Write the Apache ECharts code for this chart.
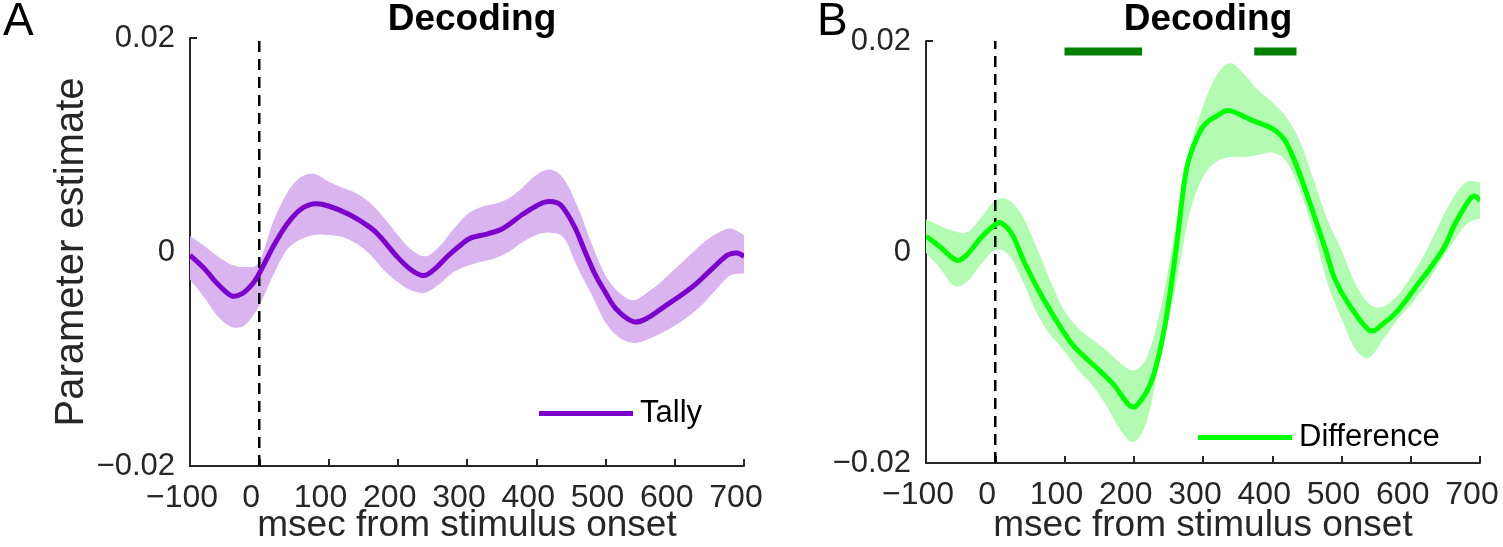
<!DOCTYPE html>
<html>
<head>
<meta charset="utf-8">
<script src="https://cdn.jsdelivr.net/npm/echarts@6/dist/echarts.min.js"></script>
<style>
html,body{margin:0;padding:0;background:#fff;}
#chart{width:1503px;height:547px;}
</style>
</head>
<body>
<div id="chart"></div>
<script>
// ---------- DATA ----------
const xTicks = [-100, 0, 100, 200, 300, 400, 500, 600, 700];
const yTicks = [-0.02, 0, 0.02];

// common time points for the confidence bands
const bandT = [-100,-80,-60,-40,-20,0,20,40,60,80,100,120,140,160,180,200,220,240,260,280,300,320,340,360,380,400,420,440,460,480,500,520,540,560,580,600,620,640,660,680,700];

// Panel A: Tally
const meanA_t = [-100,-80,-60,-40,-25,-10,0,20,40,60,80,100,130,160,175,200,220,238,255,272,290,305,330,352,380,400,415,435,455,470,485,500,515,540,560,585,610,632,655,676,690,700];
const meanA_v = [-0.0003,-0.0015,-0.003,-0.0041,-0.0039,-0.003,-0.002,0.0005,0.0026,0.004,0.0045,0.0043,0.0035,0.0023,0.0014,-0.0005,-0.0017,-0.0022,-0.0015,-0.0004,0.0006,0.0013,0.0017,0.0022,0.0035,0.0043,0.0047,0.0044,0.0024,0.0001,-0.0021,-0.0038,-0.0053,-0.0065,-0.0062,-0.0051,-0.004,-0.0029,-0.0015,-0.0003,-0.0001,-0.0004];
const upA  = [0.0015,0.0006,-0.0004,-0.0012,-0.0014,-0.0009,0.0028,0.0055,0.007,0.0073,0.0066,0.006,0.0055,0.0046,0.0032,0.0016,0.0002,-0.0004,0.0005,0.0021,0.0035,0.0042,0.0045,0.005,0.006,0.0072,0.0077,0.0068,0.0042,0.0008,-0.0022,-0.0038,-0.0045,-0.0038,-0.0028,-0.0016,-0.0004,0.0008,0.0017,0.0022,0.0016];
const lowA = [-0.0026,-0.0042,-0.006,-0.007,-0.0068,-0.005,-0.0022,0.0002,0.0012,0.0016,0.0016,0.0014,0.0008,-0.0002,-0.0017,-0.0028,-0.0036,-0.0038,-0.003,-0.0019,-0.0013,-0.0009,-0.0006,0.0,0.0009,0.0016,0.0018,0.0013,-0.0015,-0.004,-0.0066,-0.008,-0.0085,-0.0082,-0.0076,-0.0069,-0.006,-0.0049,-0.0035,-0.0022,-0.002];

// Panel B: Difference
const meanB_t = [-100,-80,-65,-54,-40,-20,0,10,25,45,70,106,125,145,170,195,210,228,245,261,276,294,306,320,338,370,400,418,435,453,477,490,510,540,560,582,612,626,648,665,688,700];
const meanB_v = [0.0015,0.0005,-0.0004,-0.0008,-0.0002,0.0014,0.0026,0.0027,0.0016,-0.0014,-0.0045,-0.0083,-0.0097,-0.0109,-0.0125,-0.0146,-0.0141,-0.0118,-0.007,0.0002,0.0078,0.0112,0.0123,0.0129,0.0134,0.0125,0.0117,0.0106,0.0082,0.0049,0.0002,-0.0025,-0.0049,-0.0074,-0.0068,-0.0055,-0.0029,-0.0017,0.0004,0.0028,0.0052,0.0049];
const upB  = [0.0031,0.0025,0.002,0.0019,0.0033,0.0049,0.0049,0.0033,0.0004,-0.0028,-0.0056,-0.0072,-0.0083,-0.0093,-0.0105,-0.0112,-0.0098,-0.005,0.0022,0.0095,0.0138,0.0168,0.0179,0.0168,0.0153,0.0142,0.0128,0.0105,0.0068,0.003,0.0002,-0.003,-0.0049,-0.0052,-0.0042,-0.0024,-0.0002,0.0025,0.005,0.0066,0.0066];
const lowB = [-0.0001,-0.0015,-0.0032,-0.0028,-0.0011,0.0002,-0.0003,-0.0028,-0.0058,-0.0079,-0.0094,-0.0112,-0.0126,-0.0145,-0.0168,-0.018,-0.0158,-0.0094,-0.0035,0.0035,0.0071,0.0086,0.009,0.009,0.0092,0.0094,0.0086,0.0058,0.0018,-0.003,-0.0063,-0.0092,-0.01,-0.0083,-0.0065,-0.005,-0.0033,-0.0012,0.0008,0.0026,0.0032];

// significance bars in panel B
const sigStartB = [100, 374];
const sigEndB   = [212, 435];
const sigLevelB = 0.019;

const stimOnset = 0;
const titles = ['Decoding', 'Decoding'];
const panelLetters = ['A', 'B'];
const seriesNames = ['Tally', 'Difference'];
const xName = 'msec from stimulus onset';
const yName = 'Parameter estimate';

// ---------- STYLE ----------
const FONT = '"Liberation Sans", Arial, Helvetica, sans-serif';
const AX = '#262626';
const colA = '#7B00CC', bandColA = '#D9B4EF';
const colB = '#00FF00', bandColB = '#B3FBB3';
const sigCol = '#007F00';

const grids = [
  {left: 190, top: 38, width: 554, height: 428, containLabel: false, outerBoundsMode: 'none'},
  {left: 926, top: 41, width: 554, height: 422, containLabel: false, outerBoundsMode: 'none'}
];

function fmtX(v){ return v < 0 ? '\u2212' + Math.abs(v) : String(v); }
function fmtY(v){
  const r = Math.round(v * 1000) / 1000;
  if (r === 0) return '0';
  return (r < 0 ? '\u2212' : '') + Math.abs(r).toFixed(2);
}

// Catmull-Rom -> cubic bezier path segments through pixel points
function crSegments(p){
  let s = '';
  for (let i = 0; i < p.length - 1; i++){
    const p0 = p[Math.max(i - 1, 0)], p1 = p[i], p2 = p[i + 1], p3 = p[Math.min(i + 2, p.length - 1)];
    const c1x = p1[0] + (p2[0] - p0[0]) / 6, c1y = p1[1] + (p2[1] - p0[1]) / 6;
    const c2x = p2[0] - (p3[0] - p1[0]) / 6, c2y = p2[1] - (p3[1] - p1[1]) / 6;
    s += ' C ' + c1x + ' ' + c1y + ' ' + c2x + ' ' + c2y + ' ' + p2[0] + ' ' + p2[1];
  }
  return s;
}

function xAxisCfg(i, gap){
  return {
    type: 'value', gridIndex: i, min: xTicks[0], max: xTicks[xTicks.length-1], interval: 100,
    name: xName, nameLocation: 'middle', nameGap: gap, nameMoveOverlap: false,
    nameTextStyle: {fontFamily: FONT, fontSize: 37, color: AX},
    axisLine: {onZero: false, lineStyle: {color: AX, width: 2}},
    axisTick: {inside: true, length: 7, lineStyle: {color: AX, width: 2}},
    axisLabel: {formatter: fmtX, fontFamily: FONT, fontSize: 32, color: AX, margin: 16,
                padding: [0, 16, 0, 0], hideOverlap: false},
    splitLine: {show: false}
  };
}
function yAxisCfg(i){
  return {
    type: 'value', gridIndex: i, min: yTicks[0], max: yTicks[yTicks.length-1], interval: 0.02,
    name: i === 0 ? yName : '', nameLocation: 'middle', nameGap: 98, nameMoveOverlap: false,
    nameTextStyle: {fontFamily: FONT, fontSize: 40, color: AX},
    axisLine: {onZero: false, lineStyle: {color: AX, width: 2}},
    axisTick: {inside: true, length: 7, lineStyle: {color: AX, width: 2}},
    axisLabel: {formatter: fmtY, fontFamily: FONT, fontSize: 31, color: AX, margin: 15},
    splitLine: {show: false}
  };
}

function bandSeries(i, low, up, color){
  return {
    type: 'custom', name: 'band' + i, xAxisIndex: i, yAxisIndex: i, silent: true, z: 1,
    animation: false, clip: true,
    data: bandT.map((t, k) => [t, low[k], up[k]]),
    encode: {x: 0, y: [1, 2]},
    renderItem: function(params, api){
      if (params.dataIndex !== 0) return null;
      const upPts = bandT.map((t, k) => api.coord([t, up[k]]));
      const lowPts = bandT.map((t, k) => api.coord([t, low[k]])).reverse();
      const d = 'M ' + upPts[0][0] + ' ' + upPts[0][1] + crSegments(upPts) +
                ' L ' + lowPts[0][0] + ' ' + lowPts[0][1] + crSegments(lowPts) + ' Z';
      return {type: 'path', shape: {pathData: d}, style: {fill: color, stroke: null}};
    }
  };
}

function meanSeries(i, ts, vs, color, name){
  return {
    type: 'custom', name: name, xAxisIndex: i, yAxisIndex: i, silent: true, z: 3,
    animation: false, clip: true,
    itemStyle: {color: color},
    data: ts.map((t, k) => [t, vs[k]]),
    encode: {x: 0, y: 1},
    renderItem: function(params, api){
      if (params.dataIndex !== 0) return null;
      const pts = ts.map((t, k) => api.coord([t, vs[k]]));
      const d = 'M ' + pts[0][0] + ' ' + pts[0][1] + crSegments(pts);
      return {type: 'path', shape: {pathData: d},
              style: {fill: 'none', stroke: color, lineWidth: 5, lineJoin: 'round'}};
    }
  };
}

function onsetSeries(i){
  return {
    type: 'line', name: 'onset' + i, xAxisIndex: i, yAxisIndex: i, symbol: 'none', silent: true,
    animation: false, z: 2,
    data: [[stimOnset, yTicks[0]], [stimOnset, yTicks[yTicks.length - 1]]],
    lineStyle: {color: '#000', width: 2.5, type: [11, 7]}
  };
}

const series = [];
series.push(bandSeries(0, lowA, upA, bandColA));
series.push(onsetSeries(0));
series.push(meanSeries(0, meanA_t, meanA_v, colA, seriesNames[0]));
series.push(bandSeries(1, lowB, upB, bandColB));
series.push(onsetSeries(1));
series.push(meanSeries(1, meanB_t, meanB_v, colB, seriesNames[1]));
sigStartB.forEach((s, k) => {
  series.push({
    type: 'line', name: 'sig' + k, xAxisIndex: 1, yAxisIndex: 1, symbol: 'none', silent: true,
    animation: false, z: 4,
    data: [[s, sigLevelB], [sigEndB[k], sigLevelB]],
    lineStyle: {color: sigCol, width: 8, cap: 'butt'}
  });
});

const legendBase = {
  orient: 'horizontal', icon: 'rect', itemWidth: 94, itemHeight: 5, padding: 0,
  selectedMode: false,
  textStyle: {fontFamily: FONT, fontSize: 31, color: '#000', padding: [0, 0, 0, 2]}
};

const option = {
  animation: false,
  backgroundColor: '#fff',
  grid: grids,
  xAxis: [xAxisCfg(0, 41), xAxisCfg(1, 44)],
  yAxis: [yAxisCfg(0), yAxisCfg(1)],
  title: [
    {text: titles[0], left: grids[0].left + grids[0].width / 2, textAlign: 'center', top: -4,
     textStyle: {fontFamily: FONT, fontSize: 37, fontWeight: 'bold', color: '#000'}},
    {text: titles[1], left: grids[1].left + grids[1].width / 2, textAlign: 'center', top: -4,
     textStyle: {fontFamily: FONT, fontSize: 37, fontWeight: 'bold', color: '#000'}},
    {text: panelLetters[0], left: -2, top: -6, textStyle: {fontFamily: FONT, fontSize: 46, fontWeight: 'normal', color: '#000'}},
    {text: panelLetters[1], left: 812, top: -6, textStyle: {fontFamily: FONT, fontSize: 46, fontWeight: 'normal', color: '#000'}}
  ],
  legend: [
    Object.assign({}, legendBase, {data: [seriesNames[0]], left: 539, top: 398}),
    Object.assign({}, legendBase, {data: [seriesNames[1]], left: 1198, top: 422})
  ],
  series: series
};

const chart = echarts.init(document.getElementById('chart'), null, {renderer: 'canvas'});
chart.setOption(option);
</script>
</body>
</html>
